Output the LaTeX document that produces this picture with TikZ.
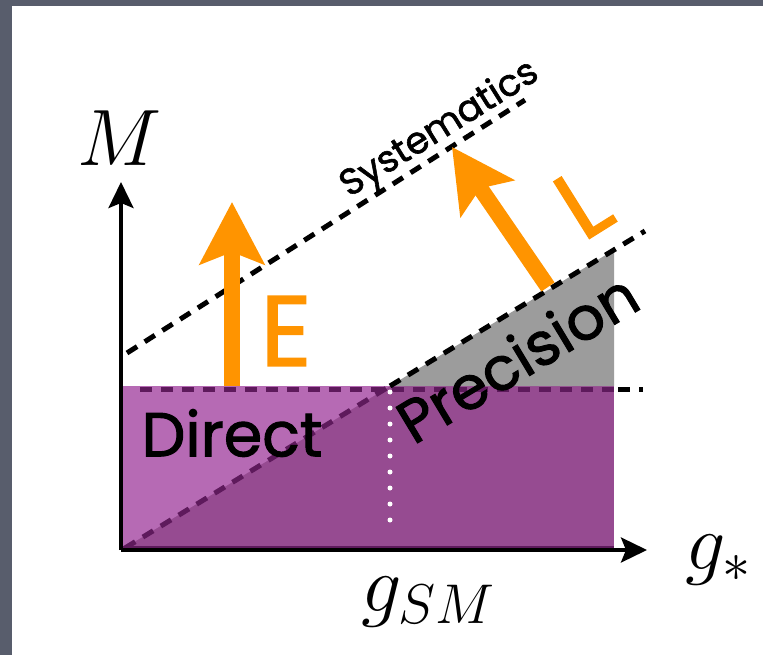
\RequirePackage{fix-cm}
\documentclass[tikz,border=0pt]{standalone}
\usepackage{amsmath}
\usepackage{fontspec}
\setmainfont{Poppins}
\newfontfamily\handfont[FakeBold=1.6]{Poppins}
\usepackage{tikz}
\usetikzlibrary{arrows.meta}

\definecolor{slate}{RGB}{88,93,108}
\definecolor{arrorange}{RGB}{255,148,0}
\definecolor{lightlilac}{RGB}{182,106,180}
\definecolor{darklilac}{RGB}{150,75,145}
\definecolor{plumline}{RGB}{94,26,92}
\definecolor{precgray}{RGB}{156,156,156}

\begin{document}
\begin{tikzpicture}[
  x=1pt, y=-1pt,
  axis/.style={line width=3.5pt, -{Stealth[length=26pt, width=25pt, inset=5pt]}},
  bigarrow/.style={draw=arrorange, line width=16pt, -{Stealth[length=62pt, width=64pt, inset=12pt]}},
  dashline/.style={line width=5pt, dash pattern=on 12pt off 9pt},
  hand/.style={inner sep=0pt, font=\handfont\fontsize{#1}{#1}\selectfont},
  maths/.style={inner sep=0pt, font=\fontsize{80}{80}\selectfont}
]
% slide frame
\useasboundingbox (0,0) rectangle (763,655);
\fill[slate] (0,0) rectangle (763,655);
\fill[white] (12,6) rectangle (763,655);

\coordinate (O) at (121,550);
\coordinate (P) at (390,386);

% regions
\fill[darklilac] (121,386) rectangle (614,550);
\fill[lightlilac] (121,386) -- (P) -- (O) -- cycle;
\fill[precgray] (P) -- (614,386) -- (614,250) -- cycle;
\draw[plumline, line width=3pt] (123,547) -- (614,547);

% bounds
\draw[dashline, plumline] (140,389) -- (614,389);
\draw[dashline] (618,389) -- (643,389);
\draw[dashline, plumline] (125,548) -- (P);
\draw[dashline] (P) -- (645,231);
\draw[dashline] (127,353) -- (525,100);
\draw[white, line width=5pt, line cap=round, dash pattern=on 0pt off 16pt] (390,392) -- (390,535);

% axes
\draw[axis] (O) -- (121,182);
\draw[axis] (O) -- (647,550);
\node[maths] (M) at (120,138) {$M$};
\node[maths] (gstar) at (718,560) {$g_*$};
\node[maths] (gsm) at (428,602) {$g_{SM}$};

% arrows
\draw[bigarrow] (232,386) -- (232,202);
\draw[bigarrow] (548,287) -- (452,147);

% labels
\node[hand=62] (direct) at (232,433) {Direct};
\node[hand=60, rotate=31] (precision) at (517,357) {Precision};
\node[hand=37, rotate=32] (syst) at (440,130) {Systematics};
\node[hand=100, text=arrorange] (E) at (286,331) {E};
\node[hand=96, text=arrorange, rotate=32] (L) at (583,203) {L};
\end{tikzpicture}
\end{document}
